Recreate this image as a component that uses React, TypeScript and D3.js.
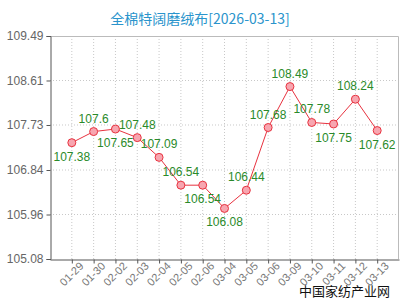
import React, { useEffect, useRef } from "react";
import * as d3 from "d3";

// chart data
const dates = [
  "01-29", "01-30", "02-02", "02-03", "02-04", "02-05", "02-06", "03-04",
  "03-05", "03-06", "03-09", "03-10", "03-11", "03-12", "03-13",
];
const prices = [
  107.38, 107.6, 107.65, 107.48, 107.09, 106.54, 106.54, 106.08,
  106.44, 107.68, 108.49, 107.78, 107.75, 108.24, 107.62,
];
// where each value label sits relative to its point
const labelSide = [
  "below", "above", "below", "above", "above", "above", "below", "below",
  "above", "above", "above", "above", "below", "above", "below",
];
const yTicks = [105.08, 105.96, 106.84, 107.73, 108.61, 109.49];
const title = "全棉特阔磨绒布[2026-03-13]";
const watermark = "中国家纺产业网";

export default function App() {
  const svgRef = useRef<SVGSVGElement>(null);

  useEffect(() => {
    const svg = d3.select(svgRef.current);
    svg.selectAll("*").remove();

    const W = 400, H = 300;
    const left = 50, right = 399, top = 36, bottom = 259;
    const font = "'Liberation Sans', Arial, sans-serif";

    svg.attr("width", W).attr("height", H).style("background", "#fff");

    const x = d3.scalePoint<string>().domain(dates).range([left, right]).padding(1);
    const y = d3.scaleLinear().domain([105.08, 109.49]).range([bottom, top]);

    // grid
    const grid = svg.append("g").attr("stroke", "#c8c8c8").attr("stroke-dasharray", "1,2");
    grid.selectAll("line.v").data(dates).enter().append("line")
      .attr("x1", (d) => x(d)!).attr("x2", (d) => x(d)!)
      .attr("y1", top).attr("y2", bottom);
    grid.selectAll("line.h").data(yTicks.slice(1, -1)).enter().append("line")
      .attr("x1", left).attr("x2", right)
      .attr("y1", (d) => y(d)).attr("y2", (d) => y(d));

    // frame
    svg.append("path")
      .attr("d", `M${left},${top + 0.5}H${right - 0.5}V${bottom}`)
      .attr("fill", "none").attr("stroke", "#bbb");

    // y axis
    const yAxis = svg.append("g")
      .attr("transform", `translate(${left + 0.5},0)`)
      .call(d3.axisLeft(y).tickValues(yTicks).tickFormat(d3.format(".2f")).tickSize(4));
    yAxis.select(".domain").attr("stroke", "#555");
    yAxis.selectAll(".tick line").attr("stroke", "#555");
    yAxis.selectAll("text").attr("fill", "#666").style("font-family", font).style("font-size", "12px");

    // x axis
    const xAxis = svg.append("g")
      .attr("transform", `translate(0,${bottom + 0.5})`)
      .call(d3.axisBottom(x).tickSize(4).tickSizeOuter(0));
    xAxis.select(".domain").attr("stroke", "#555");
    xAxis.selectAll(".tick line").attr("stroke", "#555");
    xAxis.selectAll("text")
      .attr("fill", "#777").style("font-family", font).style("font-size", "11px")
      .attr("text-anchor", "end")
      .attr("dx", "0.3em").attr("dy", "0.6em")
      .attr("transform", "rotate(-45)");

    // line
    const line = d3.line<number>().x((_, i) => x(dates[i])!).y((d) => y(d));
    svg.append("path").datum(prices)
      .attr("d", line).attr("fill", "none").attr("stroke", "#e8323f").attr("stroke-width", 1);

    svg.selectAll("circle").data(prices).enter().append("circle")
      .attr("cx", (_, i) => x(dates[i])!).attr("cy", (d) => y(d))
      .attr("r", 4).attr("fill", "#f7a6b0").attr("stroke", "#e8323f");

    // value labels
    svg.selectAll("text.val").data(prices).enter().append("text")
      .attr("class", "val")
      .attr("x", (_, i) => x(dates[i])!)
      .attr("y", (d, i) => y(d) + (labelSide[i] === "above" ? -9 : 18))
      .attr("text-anchor", "middle")
      .attr("fill", "#2a8a2a")
      .style("font-family", font).style("font-size", "12px")
      .text((d) => String(d));

    // title
    svg.append("text")
      .attr("x", 200).attr("y", 24).attr("text-anchor", "middle")
      .attr("fill", "#2a94cc")
      .style("font-family", "'Noto Sans CJK SC', sans-serif").style("font-size", "14px")
      .text(title);

    // watermark
    svg.append("text")
      .attr("x", 390).attr("y", 296).attr("text-anchor", "end")
      .attr("fill", "#111")
      .style("font-family", "'Noto Sans CJK SC', sans-serif").style("font-size", "13px")
      .text(watermark);
  }, []);

  return (
    <div style={{ position: "absolute", left: 0, top: 0 }}>
      <svg ref={svgRef}></svg>
    </div>
  );
}
